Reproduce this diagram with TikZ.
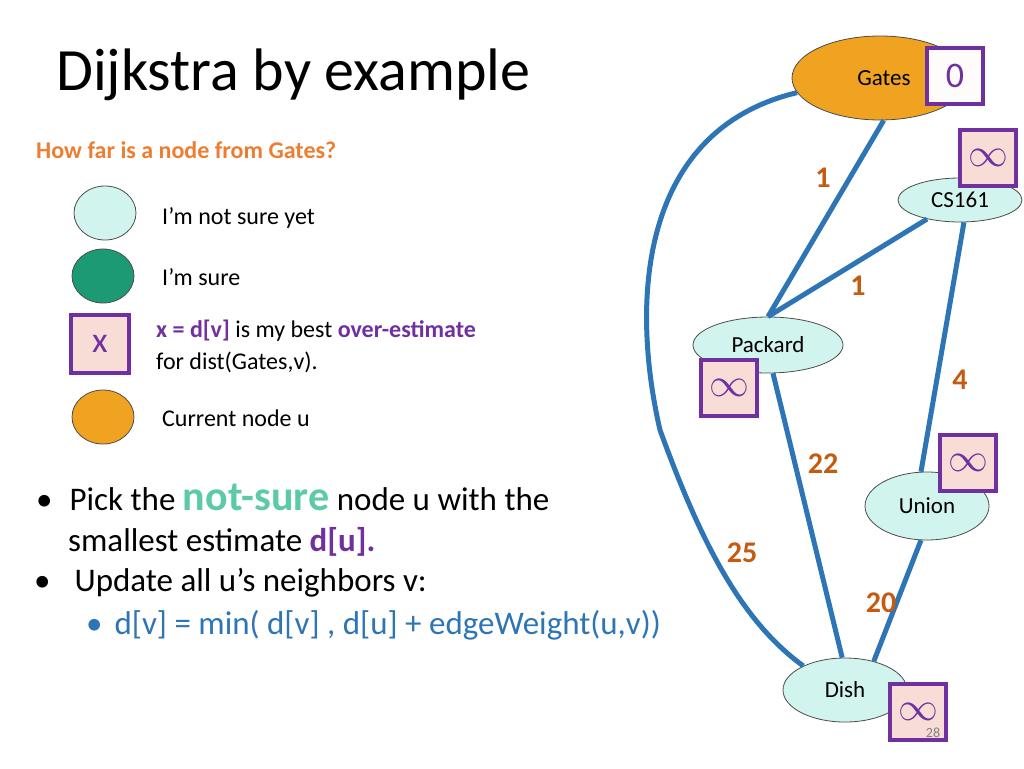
\documentclass[tikz,border=0pt]{standalone}
\usepackage{fontspec}
\setmainfont{Carlito}
\usepackage{amssymb}
\definecolor{edgeblue}{HTML}{2E75B6}
\definecolor{wcol}{HTML}{C55A11}
\definecolor{boxpurple}{HTML}{7030A0}
\definecolor{boxfill}{HTML}{F8DDD6}
\definecolor{notsure}{HTML}{D2F4EE}
\definecolor{sure}{HTML}{1C9A74}
\definecolor{cur}{HTML}{F0A320}
\definecolor{askcol}{HTML}{ED7D31}
\definecolor{nsgreen}{HTML}{5CC9A7}
\newcommand{\infest}{\scalebox{1.6}{$\infty$}}
\tikzset{
  vert/.style={ellipse,draw=black!70,thick,font=\fontsize{23}{26}\selectfont},
  est/.style={draw=boxpurple,line width=4pt,fill=boxfill,minimum size=56pt,inner sep=0pt,font=\fontsize{36}{40}\selectfont\color{boxpurple}},
  road/.style={draw=edgeblue,line width=5pt},
  wt/.style={font=\fontsize{30}{34}\selectfont\bfseries\color{wcol}},
  txt/.style={anchor=west,inner sep=0pt,font=\fontsize{24}{28}\selectfont}
}
\usetikzlibrary{shapes.geometric}
\begin{document}
\begin{tikzpicture}[x=1pt,y=-1pt]
\useasboundingbox (0,0) rectangle (1024,768);
% graph
\node[vert,fill=cur,minimum width=176pt,minimum height=84pt] (gates) at (880,78) {};
\node[vert,fill=notsure,minimum width=124pt,minimum height=44pt] (cs) at (960,200) {CS161};
\node[vert,fill=notsure,minimum width=150pt,minimum height=56pt] (pack) at (768,345) {Packard};
\node[vert,fill=notsure,minimum width=124pt,minimum height=68pt] (union) at (927,506) {Union};
\node[vert,fill=notsure,minimum width=124pt,minimum height=64pt] (dish) at (845,690) {Dish};
\node[font=\fontsize{23}{26}\selectfont] at (884,78) {Gates};
\draw[road] (gates.-85) -- (pack.90);
\draw[road] (cs.-150) -- (pack.90);
\draw[road] (cs.-80) -- (union.100);
\draw[road] (pack.-80) -- (dish.95);
\draw[road] (union.-100) -- (dish.45);
\draw[road] (gates.190) .. controls (640,130) and (630,300) .. (660,430)
  .. controls (700,540) and (740,620) .. (dish.150);
\node[wt] at (823,178) {1};
\node[wt] at (858,286) {1};
\node[wt] at (960,380) {4};
\node[wt] at (823,464) {22};
\node[wt] at (742,553) {25};
\node[wt] at (881,603) {20};
\node[est,fill=white!90!boxfill] (g0) at (955,76) {0};
\node[est] (cs0) at (988,158) {\infest};
\node[est] (p0) at (729,388) {\infest};
\node[est] (u0) at (968,463) {\infest};
\node[est] (d0) at (918,712) {\infest};
\node[font=\fontsize{14}{16}\selectfont,color=gray] at (933,733) {28};
% legend
\node[txt,font=\fontsize{60}{66}\selectfont] at (56,75) {Dijkstra by example};
\node[txt,font=\fontsize{24}{28}\selectfont\bfseries,color=askcol] at (36,150) {How far is a node from Gates?};
\node[ellipse,draw=black!70,thick,fill=notsure,minimum width=62pt,minimum height=54pt] (l1) at (105,213) {};
\node[ellipse,draw=black!70,thick,fill=sure,minimum width=62pt,minimum height=54pt] (l2) at (103,276) {};
\node[est,minimum size=58pt] (l3) at (100,344) {x};
\node[ellipse,draw=black!70,thick,fill=cur,minimum width=62pt,minimum height=54pt] (l4) at (103,417) {};
\node[txt] at (162,218) {I’m not sure yet};
\node[txt] at (162,277) {I’m sure};
\node[txt] at (156,331) {\textbf{\color{boxpurple}x = d[v]} is my best \textbf{\color{boxpurple}over-estimate}};
\node[txt] at (156,362) {for dist(Gates,v).};
\node[txt] at (162,418) {Current node u};
% bullets
\begin{scope}[every node/.style={txt,font=\fontsize{33}{36}\selectfont}]
\node at (36,497) {\textbullet\hspace{17pt}Pick the {\fontsize{42}{44}\selectfont\bfseries\color{nsgreen}not-sure} node u with the};
\node at (68,542) {smallest estimate \textbf{\color{boxpurple}d[u].}};
\node at (34,583) {\textbullet\hspace{24pt}Update all u’s neighbors v:};
\node[text=edgeblue] at (86,625) {\textbullet\hspace{12pt}d[v] = min( d[v] , d[u] + edgeWeight(u,v))};
\end{scope}
\end{tikzpicture}
\end{document}
